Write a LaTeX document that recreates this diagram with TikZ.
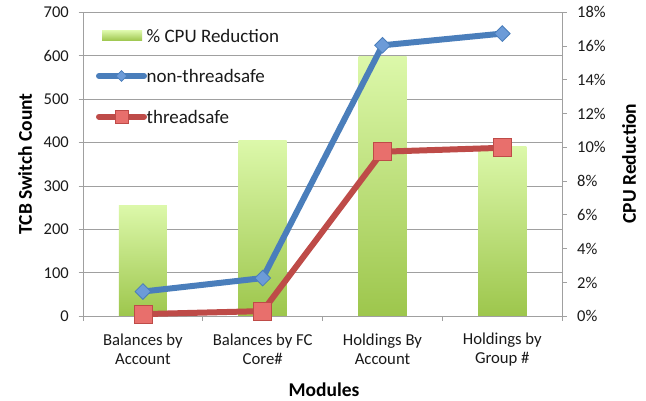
\documentclass[tikz,border=0pt]{standalone}
\usepackage{fontspec}
\setmainfont{Carlito}
\usetikzlibrary{shapes.geometric}
\definecolor{gridc}{HTML}{A0A0A0}
\definecolor{blueL}{HTML}{4A7EBB}
\definecolor{blueF}{HTML}{6C9BD8}
\definecolor{redL}{HTML}{BE4B48}
\definecolor{redF}{HTML}{E86F6C}
\definecolor{barT}{HTML}{DCF8AA}
\definecolor{barB}{HTML}{9DC64C}
\definecolor{txt}{HTML}{1A1A1A}
\begin{document}
\begin{tikzpicture}[x=1pt,y=1pt,
  ticklab/.style={font=\fontsize{16.5}{19}\selectfont, text=txt, inner sep=0pt},
  catlab/.style={font=\fontsize{16.7}{19}\selectfont, text=txt, align=center, inner sep=0pt},
  legtext/.style={font=\fontsize{19}{22}\selectfont, text=txt, inner sep=0pt, anchor=west},
  axtitle/.style={font=\fontsize{19.5}{22}\selectfont\bfseries, text=black, inner sep=0pt},
  gridline/.style={draw=gridc, line width=1pt},
  barfill/.style={top color=barT, bottom color=barB, draw=none},
  blueline/.style={draw=blueL, line width=6pt, line join=round},
  redline/.style={draw=redL, line width=6pt, line join=round},
  dmd/.style={diamond, draw=blueL, fill=blueF, line width=0.8pt, minimum width=16pt, minimum height=16pt, inner sep=0pt},
  sqr/.style={rectangle, draw=redL, fill=redF, line width=0.8pt, minimum size=18pt, inner sep=0pt},
  legdmd/.style={diamond, draw=blueL, fill=blueF, line width=0.6pt, minimum width=11pt, minimum height=11pt, inner sep=0pt},
  legsqr/.style={rectangle, draw=redL, fill=redF, line width=0.6pt, minimum size=13pt, inner sep=0pt},
]
\useasboundingbox (0,0) rectangle (646,400);
\fill[white] (0,0) rectangle (646,400);

% gridlines (left scale: value v at 83.7 + 0.4343 v)
\foreach \v in {100,200,...,700}
  \draw[gridline] (83,{83.7+0.4343*\v}) -- (562,{83.7+0.4343*\v});

% bars
\foreach \cx/\val/\nm in {142.9/255/b1, 262.7/405/b2, 382.5/598/b3, 502.3/392/b4}
  \shade[barfill] ({\cx-24},83.7) rectangle ({\cx+24},{83.7+0.4343*\val});

% axes
\draw[gridline] (83,83.7) -- (83,{83.7+0.4343*700});
\draw[gridline] (562,83.7) -- (562,{83.7+0.4343*700});
\draw[gridline] (83,83.7) -- (562,83.7);
\foreach \v in {0,100,...,700}{
  \draw[gridline] (78.5,{83.7+0.4343*\v}) -- (83,{83.7+0.4343*\v});
  \node[ticklab, anchor=east] at (69,{83.7+0.4343*\v}) {\v};
}
\foreach \p [count=\i from 0] in {0,2,4,6,8,10,12,14,16,18}{
  \draw[gridline] (562,{83.7+33.778*\i}) -- (566.5,{83.7+33.778*\i});
  \node[ticklab, anchor=west] at (577,{83.7+33.778*\i}) {\p\%};
}
\foreach \x in {83,202.75,322.5,442.25,562}
  \draw[gridline] (\x,83.7) -- (\x,79);

% category labels
\node[catlab] (c1) at (142.9,50.5) {Balances by\\Account};
\node[catlab] (c2) at (262.7,50.5) {Balances by FC\\Core\#};
\node[catlab] (c3) at (382.5,50.5) {Holdings By\\Account};
\node[catlab] (c4) at (502.3,50.5) {Holdings by\\Group \#};

% axis titles
\node[axtitle, rotate=90] (ytl) at (25,236) {TCB Switch Count};
\node[axtitle, rotate=90] (ytr) at (629,236.5) {CPU Reduction};
\node[axtitle, anchor=base] (xt) at (324,3.8) {Modules};

% data points
\coordinate (n1) at (142.9,{83.7+0.4343*57});
\coordinate (n2) at (262.7,{83.7+0.4343*88});
\coordinate (n3) at (382.5,{83.7+0.4343*624});
\coordinate (n4) at (502.3,{83.7+0.4343*651});
\coordinate (t1) at (142.9,{83.7+0.4343*5});
\coordinate (t2) at (262.7,{83.7+0.4343*12});
\coordinate (t3) at (382.5,{83.7+0.4343*379});
\coordinate (t4) at (502.3,{83.7+0.4343*388});

\draw[blueline] (n1) -- (n2) -- (n3) -- (n4);
\foreach \c in {n1,n2,n3,n4} \node[dmd] at (\c) {};
\draw[redline] (t1) -- (t2) -- (t3) -- (t4);
\foreach \c in {t1,t2,t3,t4} \node[sqr] at (\c) {};

% legend
\fill[top color=barT, bottom color=barB] (102,359.3) rectangle (142,369.3);
\node[legtext] (l1) at (146.5,364) {\% CPU Reduction};
\coordinate (la) at (99,324);
\coordinate (lb) at (144,324);
\draw[blueline, line cap=round] (la) -- (lb);
\node[legdmd] (lm1) at (121.5,324) {};
\node[legtext] (l2) at (146.5,324) {non-threadsafe};
\coordinate (lc) at (99,283.3);
\coordinate (ld) at (144,283.3);
\draw[redline, line cap=round] (lc) -- (ld);
\node[legsqr] (lm2) at (121.5,283.3) {};
\node[legtext] (l3) at (146.5,283.3) {threadsafe};
\end{tikzpicture}
\end{document}
